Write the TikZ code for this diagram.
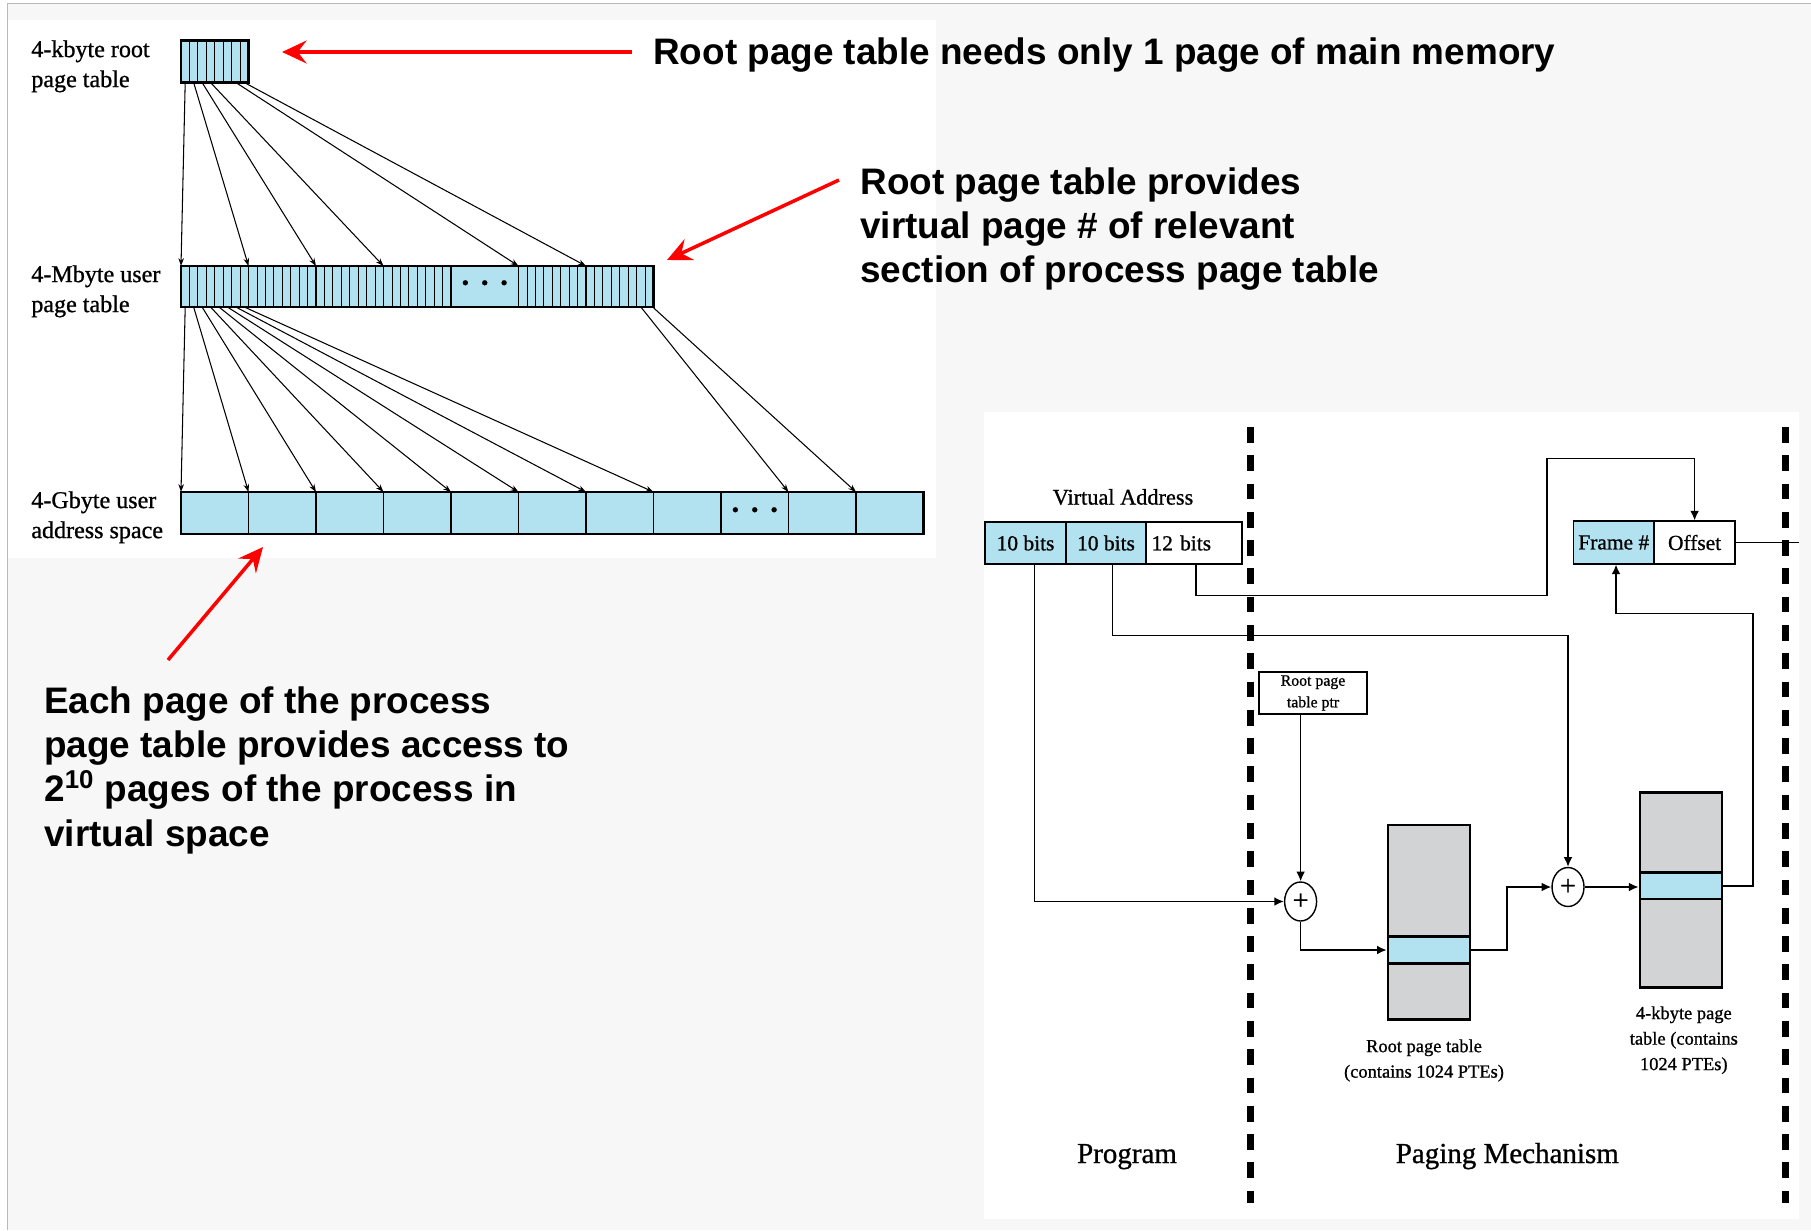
\documentclass[tikz,border=0pt]{standalone}
\usepackage{fontspec}
\setmainfont{Liberation Serif}[FakeBold=0.9]
\newfontfamily\arialfont{Liberation Sans}
\usetikzlibrary{arrows.meta,shapes.geometric,calc}
\definecolor{pageblue}{RGB}{178,226,240}
\definecolor{tablegray}{RGB}{209,211,212}
\definecolor{bggray}{RGB}{247,247,247}
\definecolor{framegray}{RGB}{185,185,185}
\tikzset{
  note/.style={font=\arialfont\bfseries\fontsize{21}{25.3}\selectfont, align=left, inner sep=0pt},
  redarrow/.style={red, line width=2pt, -{Stealth[length=14pt,width=13pt,inset=5pt]}},
  sidelabel/.style={font=\fontsize{13.7}{17.1}\selectfont, align=left, inner sep=0pt, anchor=north west},
  ptrarrow/.style={line width=0.6pt, -{Stealth[length=4.5pt,width=3.2pt]}},
  conn/.style={line width=0.9pt},
  connarrow/.style={conn, -{Latex[length=5.5pt,width=5pt]}},
  cell/.style={draw, line width=1pt, minimum height=0.846cm, inner sep=0pt, font=\fontsize{12.2}{14}\selectfont},
  plus/.style={draw, ellipse, fill=white, line width=0.8pt, minimum width=0.64cm, minimum height=0.78cm, inner sep=0pt, font=\fontsize{16}{16}\selectfont},
  tab/.style={draw, fill=tablegray, line width=1.4pt, inner sep=0pt, minimum width=1.64cm},
  entry/.style={draw, fill=pageblue, line width=1.5pt, inner sep=0pt, minimum width=1.64cm},
  caption/.style={font=\fontsize{10.5}{14.5}\selectfont, align=center, inner sep=0pt, anchor=north},
  region/.style={font=\fontsize{16.5}{18}\selectfont, inner sep=0pt, anchor=base},
  divider/.style={line width=3.6pt, dash pattern=on 8.9pt off 7.2pt},
  dots/.style={font=\fontsize{12}{12}\selectfont, inner sep=0pt}
}
\begin{document}
\begin{tikzpicture}[x=0.02cm, y=-0.02cm]
  \useasboundingbox (0,0) rectangle (1811,1230);
  % backdrop and the two white panels
  \fill[white] (0,0) rectangle (1811,1230);
  \fill[bggray] (7.5,3.5) rectangle (1811,1230);
  \draw[framegray, line width=1pt] (7.5,1230) -- (7.5,3.5) -- (1811,3.5);
  \fill[white] (8,20) rectangle (936,558);
  \fill[white] (984,412) rectangle (1799,1219);

  % root page table
  \fill[pageblue] (181,40.5) rectangle (248.5,82.5);
  \foreach \k in {1,...,7}
    \draw[line width=0.5pt] (181+\k*8.4375,40.5) -- ++(0,42);
  \draw[line width=1.2pt] (181,40.5) rectangle (248.5,82.5);

  % user page table
  \fill[pageblue] (181,266) rectangle (653.5,307);
  \foreach \g in {0,1,2,3,5,6}
    \foreach \k in {1,...,7}
      \draw[line width=0.5pt] (181+\g*67.5+\k*8.4375,266) -- ++(0,41);
  \foreach \g in {1,...,6}
    \draw[line width=1pt] (181+\g*67.5,266) -- ++(0,41);
  \draw[line width=1.2pt] (181,266) rectangle (653.5,307);
  \node[dots] (middots) at (484.75,285) {\textbullet\hspace{0.24cm}\textbullet\hspace{0.24cm}\textbullet};

  % user address space
  \fill[pageblue] (181,492) rectangle (923.5,534);
  \foreach \g in {1,...,10}
    \draw[line width=1pt] (181+\g*67.5,492) -- ++(0,42);
  \draw[line width=1.2pt] (181,492) rectangle (923.5,534);
  \node[dots] (lowdots) at (754.75,512) {\textbullet\hspace{0.24cm}\textbullet\hspace{0.24cm}\textbullet};

  % root entries -> sections of the user page table
  \foreach \k/\g [count=\i] in {0/0, 1/1, 2/2, 3/3, 6/5, 7/6} {
    \coordinate (rs\i) at (181+\k*8.4375+4.2,82.5);
    \coordinate (mt\i) at (181+\g*67.5,266);
    \draw[ptrarrow] (rs\i) -- (mt\i);
  }
  % user page table entries -> pages
  \foreach \k in {0,...,7} {
    \coordinate (ms\k) at (181+\k*8.4375+4.2,307);
    \coordinate (gt\k) at (181+\k*67.5,492);
    \draw[ptrarrow] (ms\k) -- (gt\k);
  }
  \foreach \k/\g in {6.5/9, 7.9/10} {
    \coordinate (me\g) at (586+\k*8.4375,307);
    \coordinate (gt\g) at (181+\g*67.5,492);
    \draw[ptrarrow] (me\g) -- (gt\g);
  }

  \node[sidelabel] (rootlbl) at (31,40) {4-kbyte root\\page table};
  \node[sidelabel] (userlbl) at (31,265) {4-Mbyte user\\page table};
  \node[sidelabel] (spacelbl) at (31,491) {4-Gbyte user\\address space};

  % red call-outs
  \node[note, anchor=base west] (note1) at (653,65) {Root page table needs only 1 page of main memory};
  \node[note, anchor=north west] (note2) at (860,167) {Root page table provides\\virtual page \# of relevant\\section of process page table};
  \node[note, anchor=north west] (note3) at (44,686) {Each page of the process\\page table provides access to\\2\textsuperscript{10} pages of the process in\\virtual space};
  \coordinate (n1tail) at (632,52);
  \coordinate (n1tip) at (282,52);
  \coordinate (n2tail) at (839,180);
  \coordinate (n2tip) at (667,260);
  \coordinate (n3tail) at (168,660);
  \coordinate (n3tip) at (263,547);
  \draw[redarrow] (n1tail) -- (n1tip);
  \draw[redarrow] (n2tail) -- (n2tip);
  \draw[redarrow] (n3tail) -- (n3tip);

  % address translation
  \draw[divider] (1250.5,427) -- (1250.5,1203);
  \draw[divider] (1785.5,427) -- (1785.5,1203);

  \node[font=\fontsize{12.7}{14}\selectfont, inner sep=0pt] (vatitle) at (1123,497) {Virtual Address};
  \node[cell, fill=pageblue, minimum width=1.61cm] (va1) at (1025.5,543) {10 bits};
  \node[cell, fill=pageblue, minimum width=1.60cm] (va2) at (1106,543) {10 bits};
  \node[cell, fill=white, minimum width=1.93cm, text width=1.7cm, align=left] (va3) at (1194,543) {12 bits};
  \node[cell, fill=pageblue, minimum width=1.61cm] (fr) at (1613.75,542.5) {Frame \#};
  \node[cell, fill=white, minimum width=1.624cm] (off) at (1694.6,542.5) {Offset};
  \node[cell, fill=white, minimum width=2.16cm, align=center, font=\fontsize{9}{12.3}\selectfont] (rptr) at (1313,693) {Root page\\table ptr};

  \node[plus] (plus1) at (1300.6,901.5) {+};
  \node[plus] (plus2) at (1568,887) {+};
  \node[tab, minimum height=3.886cm] (roottab) at (1429,922.15) {};
  \node[entry, minimum height=0.532cm] (rootent) at (1429,950) {};
  \node[tab, minimum height=3.892cm] (pgtab) at (1680.9,890) {};
  \node[entry, minimum height=0.526cm] (pgent) at (1680.9,885.85) {};

  \node[caption] (rootcap) at (1424,1039) {Root page table\\(contains 1024 PTEs)};
  \node[caption] (pgcap) at (1683.8,1006) {4-kbyte page\\table (contains\\1024 PTEs)};
  \node[region] (prog) at (1127,1163) {Program};
  \node[region] (paging) at (1507.3,1163) {Paging Mechanism};

  \coordinate (tap1) at (1034.6,564);
  \coordinate (tap2) at (1112.5,564);
  \coordinate (tap3) at (1196,564);
  \coordinate (bend2) at (1112.5,635.3);
  \coordinate (bend3a) at (1547,595.7);
  \coordinate (bend3b) at (1547,458.3);
  \coordinate (bend8) at (1616,613.3);
  \coordinate (offout) at (1799,542.5);

  \draw[connarrow] (tap1) |- (plus1.west);
  \draw[connarrow] (tap2) -- (bend2) -| (plus2.north);
  \draw[connarrow] (tap3) |- (bend3a) -- (bend3b) -| (off.north);
  \draw[connarrow] (rptr.south -| plus1) -- (plus1.north);
  \draw[connarrow] (plus1.south) |- (rootent.west);
  \draw[connarrow] (rootent.east) -- ++(35.7,0) |- (plus2.west);
  \draw[connarrow] (plus2.east) -- (plus2.east -| pgent.west);
  \draw[connarrow] (pgent.east) -- ++(30,0) |- (bend8) -- (bend8 |- fr.south);
  \draw[conn] (off.east) -- (offout);
\end{tikzpicture}
\end{document}
